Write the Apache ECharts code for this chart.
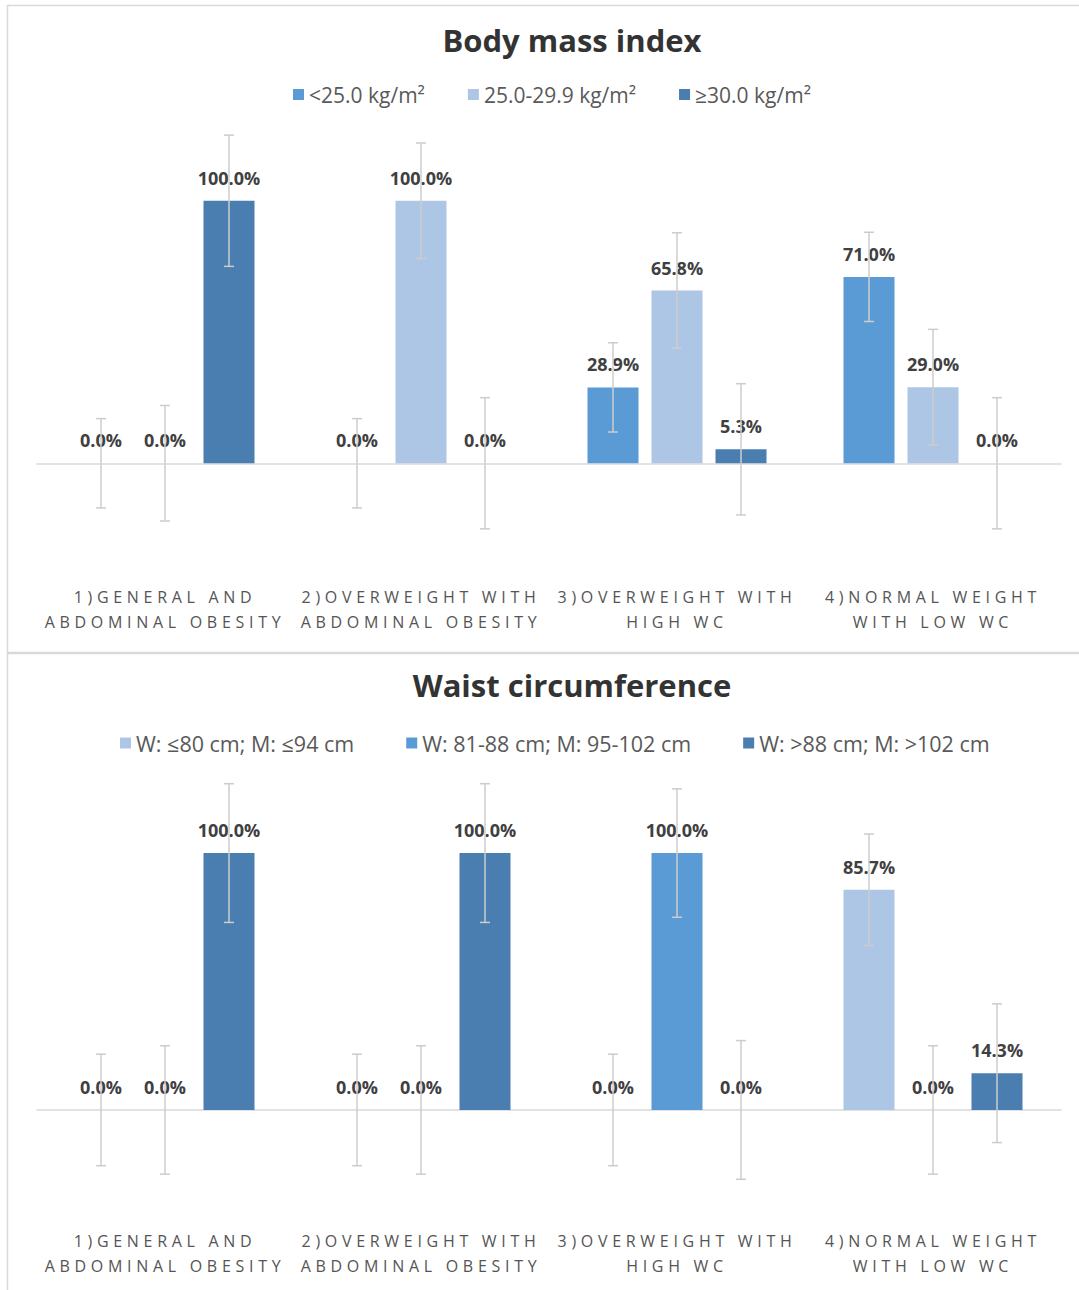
<!DOCTYPE html>
<html><head><meta charset="utf-8">
<script src="https://cdn.jsdelivr.net/npm/echarts@6/dist/echarts.min.js"></script>
<style>html,body{margin:0;padding:0;background:#fff}#c{width:1079px;height:1290px}</style>
</head><body><div id="c"></div>
<script>
// ---------- data ----------
const categories = ['1)GENERAL AND\nABDOMINAL OBESITY', '2)OVERWEIGHT WITH\nABDOMINAL OBESITY', '3)OVERWEIGHT WITH\nHIGH WC', '4)NORMAL WEIGHT\nWITH LOW WC'];

const bmiTitle = 'Body mass index';
const bmiNames = ['<25.0 kg/m²', '25.0-29.9 kg/m²', '≥30.0 kg/m²'];
const bmiUnder25 = [0, 0, 28.9, 71.0];
const bmi25to30 = [0, 100, 65.8, 29.0];
const bmiOver30 = [100, 0, 5.3, 0];
const bmiErrUnder25 = [17, 17, 17, 17];
const bmiErr25to30 = [22, 22, 22, 22];
const bmiErrOver30 = [25, 25, 25, 25];

const wcTitle = 'Waist circumference';
const wcNames = ['W: ≤80 cm; M: ≤94 cm', 'W: 81-88 cm; M: 95-102 cm', 'W: >88 cm; M: >102 cm'];
const wcLow = [0, 0, 0, 85.7];
const wcMid = [0, 0, 100, 0];
const wcHigh = [100, 100, 0, 14.3];
const wcErrLow = [21.7, 21.7, 21.7, 21.7];
const wcErrMid = [25, 25, 25, 25];
const wcErrHigh = [27, 27, 27, 27];

// ---------- style ----------
const C_MED = '#5b9bd5', C_LIGHT = '#adc6e6', C_DARK = '#4a7db0';
const ERR_COLOR = '#cccccc';
const BAR_W = 51, BAR_GAP = 13;
const FONT = 'Open Sans';
const CAT_SPACING = '4.7px';

function barSeries(name, data, color, gi) {
  return {
    type: 'bar', name: name, data: data, xAxisIndex: gi * 2, yAxisIndex: gi,
    barWidth: BAR_W, barGap: (BAR_GAP / BAR_W * 100) + '%',
    itemStyle: { color: color },
    label: { show: true, position: 'top', distance: 14, fontFamily: FONT, fontSize: 18, fontWeight: 'bold', color: '#404040',
      formatter: p => p.value.toFixed(1) + '%' }
  };
}
function errSeries(vals, errs, slot, gi) {
  return {
    type: 'custom', xAxisIndex: gi * 2, yAxisIndex: gi, silent: true, z: 3,
    data: vals.map((v, i) => [i, v, errs[i]]),
    encode: { x: 0, y: 1 },
    renderItem: function (params, api) {
      const c = api.value(0), v = api.value(1), e = api.value(2);
      const x = api.coord([c, 0])[0] + (slot - 1) * (BAR_W + BAR_GAP);
      const yHi = api.coord([c, v + e])[1];
      const yLo = api.coord([c, v - e])[1];
      const cap = 5;
      const st = { stroke: ERR_COLOR, lineWidth: 1.5 };
      return { type: 'group', children: [
        { type: 'line', shape: { x1: x, y1: yHi, x2: x, y2: yLo }, style: st },
        { type: 'line', shape: { x1: x - cap, y1: yHi, x2: x + cap, y2: yHi }, style: st },
        { type: 'line', shape: { x1: x - cap, y1: yLo, x2: x + cap, y2: yLo }, style: st }
      ] };
    }
  };
}
function xAxes(gi, margin) {
  return [
    { type: 'category', gridIndex: gi, data: categories, position: 'bottom',
      axisLine: { show: true, onZero: true, lineStyle: { color: '#d9d9d9', width: 1.5 } },
      axisTick: { show: false }, axisLabel: { show: false } },
    { type: 'category', gridIndex: gi, data: categories, position: 'bottom',
      axisLine: { show: false, onZero: false }, axisTick: { show: false },
      axisLabel: { show: true, margin: margin, fontFamily: FONT, fontSize: 16, color: '#555555', lineHeight: 25, interval: 0 } }
  ];
}
function yAx(gi) {
  return { type: 'value', gridIndex: gi, min: -30, max: 130, show: false, splitLine: { show: false } };
}

const option = {
  animation: false,
  textStyle: { fontFamily: FONT },
  graphic: [
    { type: 'rect', shape: { x: 7.5, y: 5.5, width: 1080, height: 647 }, style: { fill: 'none', stroke: '#d9d9d9', lineWidth: 1.5 }, silent: true },
    { type: 'rect', shape: { x: 7.5, y: 653.5, width: 1080, height: 700 }, style: { fill: 'none', stroke: '#d9d9d9', lineWidth: 1.5 }, silent: true }
  ],
  title: [
    { text: bmiTitle, left: 567, top: 19, textAlign: 'center', textStyle: { fontFamily: FONT, fontSize: 31, fontWeight: 'bold', color: '#333333' } },
    { text: wcTitle, left: 567, top: 664, textAlign: 'center', textStyle: { fontFamily: FONT, fontSize: 31, fontWeight: 'bold', color: '#333333' } }
  ],
  legend: [
    { data: bmiNames, top: 79, left: 288, itemWidth: 11, itemHeight: 11, itemGap: 43, icon: 'rect',
      textStyle: { fontFamily: FONT, fontSize: 21, color: '#595959' } },
    { data: wcNames, top: 727, left: 115, itemWidth: 11, itemHeight: 11, itemGap: 52, icon: 'rect',
      textStyle: { fontFamily: FONT, fontSize: 21.5, color: '#595959' } }
  ],
  grid: [
    { left: 37, width: 1024, top: 122, height: 420 },
    { left: 37, width: 1024, top: 776, height: 411 }
  ],
  xAxis: xAxes(0, 42).concat(xAxes(1, 41)),
  yAxis: [yAx(0), yAx(1)],
  series: [
    barSeries(bmiNames[0], bmiUnder25, C_MED, 0),
    barSeries(bmiNames[1], bmi25to30, C_LIGHT, 0),
    barSeries(bmiNames[2], bmiOver30, C_DARK, 0),
    errSeries(bmiUnder25, bmiErrUnder25, 0, 0),
    errSeries(bmi25to30, bmiErr25to30, 1, 0),
    errSeries(bmiOver30, bmiErrOver30, 2, 0),
    barSeries(wcNames[0], wcLow, C_LIGHT, 1),
    barSeries(wcNames[1], wcMid, C_MED, 1),
    barSeries(wcNames[2], wcHigh, C_DARK, 1),
    errSeries(wcLow, wcErrLow, 0, 1),
    errSeries(wcMid, wcErrMid, 1, 1),
    errSeries(wcHigh, wcErrHigh, 2, 1)
  ]
};

const chart = echarts.init(document.getElementById('c'), null, { renderer: 'svg' });
chart.setOption(option);

// letter-spaced category labels
const catLines = new Set();
categories.forEach(c => c.split('\n').forEach(l => catLines.add(l)));
function spaceLabels() {
  document.querySelectorAll('#c svg text').forEach(t => {
    if (catLines.has(t.textContent.trim())) {
      t.setAttribute('letter-spacing', CAT_SPACING);
      t.style.letterSpacing = CAT_SPACING;
    }
  });
}
spaceLabels();
chart.on('finished', spaceLabels);
</script></body></html>
